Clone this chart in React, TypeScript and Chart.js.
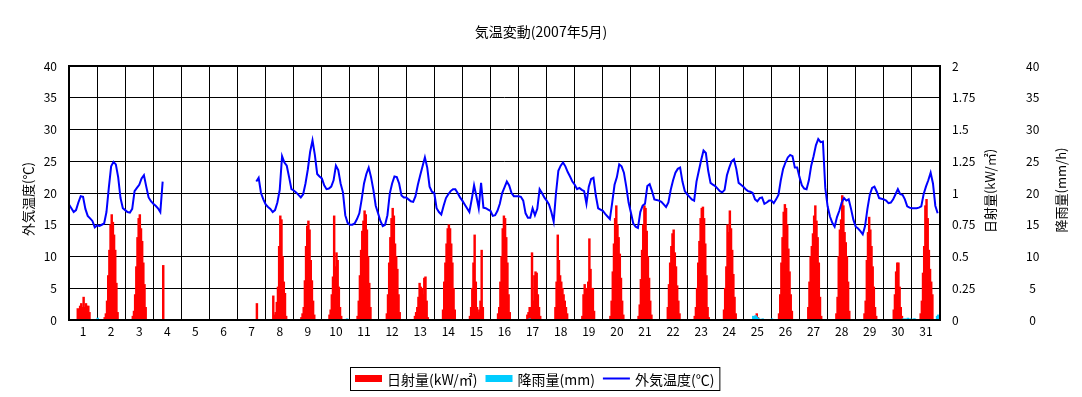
import React, { useEffect, useRef } from 'react';
import { Chart, registerables } from 'chart.js';

Chart.register(...registerables);

const FONT_FAMILY = "'Noto Sans CJK JP', 'Noto Sans', sans-serif";

const CHART_TITLE = '気温変動(2007年5月)';
const TEMP_AXIS_TITLE = '外気温度(℃)';
const SOLAR_AXIS_TITLE = '日射量(kW/㎡)';
const RAIN_AXIS_TITLE = '降雨量(mm/h)';
const SOLAR_LABEL = '日射量(kW/㎡)';
const RAIN_LABEL = '降雨量(mm)';
const TEMP_LABEL = '外気温度(℃)';

const DAY_LABELS = ['1','2','3','4','5','6','7','8','9','10','11','12','13','14','15','16','17','18','19','20','21','22','23','24','25','26','27','28','29','30','31'];

// Outside temperature, every 2 hours (0,2,...,22h) for each day of May 2007
const TEMP_HOURS = [0, 2, 4, 6, 8, 10, 12, 14, 16, 18, 20, 22];
const N = null;
const temperature: (number | null)[][] = [
  [18.2, 17.6, 17.0, 17.3, 18.5, 19.5, 19.4, 17.5, 16.4, 16.0, 15.6, 14.6],
  [14.9, 14.8, 15.0, 15.2, 17.0, 20.8, 24.2, 24.9, 24.5, 22.5, 19.2, 17.6],
  [17.3, 17.0, 16.9, 17.5, 20.3, 20.8, 21.3, 22.3, 22.8, 21.0, 19.3, 18.7],
  [18.3, 18.0, 17.6, 17.0, 21.8, N, N, N, N, N, N, N],
  [N, N, N, N, N, N, N, N, N, N, N, N],
  [N, N, N, N, N, N, N, N, N, N, N, N],
  [N, N, N, N, N, N, N, N, 21.8, 22.4, 20.0, 19.0],
  [18.2, 17.8, 17.5, 17.0, 17.3, 18.5, 20.5, 25.8, 24.8, 24.3, 22.5, 20.6],
  [20.4, 20.1, 19.7, 19.3, 19.8, 21.5, 23.7, 26.5, 28.3, 26.0, 23.0, 22.6],
  [22.3, 21.2, 20.6, 20.7, 21.0, 22.0, 24.3, 23.6, 21.5, 20.1, 16.5, 15.3],
  [15.0, 15.0, 15.2, 15.9, 16.8, 19.0, 21.5, 23.0, 24.0, 22.5, 20.5, 18.0],
  [16.8, 15.6, 14.8, 15.0, 16.5, 19.9, 21.5, 22.6, 22.5, 21.5, 19.6, 19.3],
  [19.3, 19.0, 18.7, 18.6, 19.5, 21.3, 22.8, 24.2, 25.6, 24.0, 21.0, 20.2],
  [20.0, 17.6, 17.0, 16.6, 18.0, 19.2, 19.8, 20.3, 20.6, 20.6, 20.0, 19.3],
  [18.8, 18.2, 17.6, 17.0, 19.0, 21.2, 19.5, 17.6, 21.6, 17.7, 17.6, 17.4],
  [17.2, 16.4, 16.5, 17.2, 18.3, 20.0, 20.9, 21.8, 21.2, 20.0, 19.5, 19.5],
  [19.5, 19.4, 18.8, 16.8, 16.1, 16.1, 17.6, 16.5, 17.5, 20.6, 20.0, 19.3],
  [18.8, 18.2, 17.0, 15.5, 20.0, 23.5, 24.3, 24.8, 24.2, 23.3, 22.6, 21.8],
  [21.3, 20.6, 20.8, 20.5, 20.3, 18.3, 21.0, 22.2, 22.4, 19.6, 17.6, 17.4],
  [17.2, 16.7, 16.3, 15.9, 18.5, 21.3, 22.5, 24.5, 24.2, 23.2, 21.0, 18.5],
  [16.9, 15.2, 14.7, 14.5, 17.0, 18.0, 18.3, 21.1, 21.4, 20.3, 19.0, 18.9],
  [18.8, 18.6, 18.2, 17.8, 18.5, 20.5, 22.0, 23.2, 23.8, 24.0, 21.8, 20.3],
  [19.8, 19.4, 19.0, 18.8, 21.8, 23.5, 25.2, 26.7, 26.3, 23.5, 21.6, 21.3],
  [21.1, 20.7, 20.3, 20.1, 20.5, 22.8, 24.0, 25.0, 25.3, 23.8, 21.6, 21.3],
  [21.0, 20.6, 20.3, 20.2, 20.0, 19.0, 18.7, 19.2, 19.3, 18.3, 18.5, 18.8],
  [18.8, 18.4, 19.0, 19.7, 22.0, 23.8, 24.8, 25.6, 26.0, 25.8, 24.0, 24.0],
  [22.5, 21.2, 20.7, 20.6, 22.0, 24.3, 25.8, 27.5, 28.5, 28.0, 28.1, 20.8],
  [17.9, 16.3, 15.3, 14.7, 16.2, 17.2, 18.5, 19.2, 18.8, 19.0, 17.5, 15.8],
  [14.7, 14.4, 14.0, 13.5, 14.8, 17.5, 19.7, 20.8, 21.0, 20.2, 19.2, 19.1],
  [19.0, 18.8, 18.4, 18.5, 19.0, 19.8, 20.6, 19.8, 19.7, 19.0, 17.9, 17.7],
  [17.6, 17.6, 17.6, 17.7, 17.9, 19.8, 21.0, 22.0, 23.2, 21.5, 18.0, 16.8],
];

// Solar radiation (kW/m2), hourly from 5h to 18h for each day
const SOLAR_HOURS = [5, 6, 7, 8, 9, 10, 11, 12, 13, 14, 15, 16, 17, 18];
const solar: number[][] = [
  [0, 0, 0.09, 0.06, 0.11, 0.13, 0.1, 0.18, 0.1, 0.13, 0.11, 0.11, 0.06, 0],
  [0, 0.02, 0.05, 0.15, 0.35, 0.55, 0.75, 0.83, 0.77, 0.67, 0.55, 0.29, 0.06, 0],
  [0, 0.03, 0.07, 0.2, 0.42, 0.65, 0.8, 0.83, 0.72, 0.62, 0.45, 0.28, 0.1, 0],
  [0, 0, 0, 0.43, 0, 0, 0, 0, 0, 0, 0, 0, 0, 0],
  [0, 0, 0, 0, 0, 0, 0, 0, 0, 0, 0, 0, 0, 0],
  [0, 0, 0, 0, 0, 0, 0, 0, 0, 0, 0, 0, 0, 0],
  [0, 0, 0, 0, 0, 0, 0, 0, 0, 0, 0, 0.13, 0, 0],
  [0, 0.19, 0.04, 0.06, 0.14, 0.26, 0.58, 0.82, 0.79, 0.5, 0.3, 0.21, 0.03, 0],
  [0, 0.02, 0.05, 0.1, 0.31, 0.58, 0.74, 0.78, 0.71, 0.47, 0.31, 0.15, 0.04, 0],
  [0, 0.04, 0.08, 0.2, 0.34, 0.82, 0.42, 0.53, 0.47, 0.26, 0.1, 0.03, 0, 0],
  [0, 0.03, 0.15, 0.35, 0.55, 0.7, 0.78, 0.86, 0.83, 0.71, 0.5, 0.29, 0.1, 0],
  [0, 0, 0.05, 0.2, 0.45, 0.65, 0.8, 0.88, 0.82, 0.6, 0.5, 0.4, 0.2, 0.06],
  [0, 0, 0.03, 0.06, 0.1, 0.18, 0.29, 0.26, 0.25, 0.2, 0.33, 0.34, 0.15, 0.02],
  [0, 0, 0.08, 0.3, 0.45, 0.6, 0.72, 0.75, 0.72, 0.6, 0.45, 0.25, 0.08, 0],
  [0, 0.03, 0.1, 0.25, 0.45, 0.67, 0.3, 0.1, 0.06, 0.08, 0.15, 0.55, 0.1, 0],
  [0, 0.05, 0.1, 0.3, 0.5, 0.72, 0.82, 0.8, 0.65, 0.45, 0.2, 0.06, 0, 0],
  [0, 0, 0.04, 0.06, 0.1, 0.1, 0.53, 0.15, 0.35, 0.38, 0.37, 0.2, 0.1, 0.03],
  [0, 0, 0.1, 0.3, 0.67, 0.47, 0.35, 0.3, 0.25, 0.2, 0.15, 0.1, 0.05, 0],
  [0, 0.03, 0.2, 0.28, 0.25, 0.1, 0.3, 0.64, 0.4, 0.25, 0.25, 0.07, 0, 0],
  [0, 0.03, 0.15, 0.38, 0.6, 0.8, 0.9, 0.75, 0.65, 0.52, 0.33, 0.15, 0.04, 0],
  [0, 0.03, 0.12, 0.32, 0.55, 0.75, 0.9, 0.88, 0.7, 0.5, 0.33, 0.15, 0.04, 0],
  [0, 0, 0.1, 0.28, 0.45, 0.58, 0.68, 0.71, 0.53, 0.42, 0.27, 0.15, 0.05, 0],
  [0, 0.03, 0.1, 0.25, 0.45, 0.62, 0.8, 0.88, 0.89, 0.8, 0.6, 0.35, 0.1, 0.02],
  [0, 0, 0.08, 0.25, 0.42, 0.75, 0.69, 0.86, 0.72, 0.55, 0.36, 0.18, 0.05, 0],
  [0, 0, 0, 0, 0, 0.03, 0.05, 0.02, 0, 0, 0, 0, 0, 0],
  [0, 0.05, 0.2, 0.45, 0.65, 0.85, 0.91, 0.88, 0.75, 0.56, 0.38, 0.2, 0.07, 0],
  [0, 0, 0.1, 0.3, 0.5, 0.58, 0.68, 0.82, 0.9, 0.78, 0.65, 0.45, 0.18, 0.03],
  [0, 0, 0.05, 0.18, 0.5, 0.71, 0.79, 0.98, 0.9, 0.69, 0.61, 0.5, 0.3, 0.07],
  [0, 0, 0.05, 0.15, 0.47, 0.69, 0.81, 0.71, 0.58, 0.42, 0.26, 0.1, 0.03, 0],
  [0, 0, 0, 0.08, 0.2, 0.38, 0.45, 0.45, 0.26, 0.1, 0.03, 0, 0, 0],
  [0, 0, 0.05, 0.15, 0.37, 0.58, 0.9, 0.95, 0.8, 0.55, 0.4, 0.3, 0.2, 0],
];

// Rainfall (mm/h): [day, hour, amount]
const rainfall: [number, number, number][] = [
  [2, 0, 0.3], [10, 21, 0.2], [17, 9, 0.2],
  [25, 8, 0.6], [25, 9, 0.4], [25, 10, 0.7], [25, 11, 0.5], [25, 12, 0.3], [25, 13, 0.2], [25, 16, 0.2],
  [26, 0, 0.2],
  [30, 16, 0.2], [30, 18, 0.2], [30, 20, 0.3], [30, 22, 0.2],
  [31, 1, 0.2], [31, 2, 0.2], [31, 21, 0.6], [31, 22, 0.8],
];

const SOLAR_COLOR = '#ff0000';
const RAIN_COLOR = '#00ccff';
const TEMP_COLOR = '#0000ff';

const titlePlugin = {
  id: 'customText',
  afterDraw(chart: any) {
    const ctx = chart.ctx;
    const area = chart.chartArea;
    ctx.save();
    ctx.fillStyle = '#000';
    ctx.textAlign = 'center';
    ctx.textBaseline = 'middle';
    ctx.font = `14px ${FONT_FAMILY}`;
    ctx.fillText(CHART_TITLE, chart.width / 2, 32);

    ctx.font = `13px ${FONT_FAMILY}`;
    const drawVertical = (text: string, x: number, y: number) => {
      ctx.save();
      ctx.translate(x, y);
      ctx.rotate(-Math.PI / 2);
      ctx.fillText(text, 0, 0);
      ctx.restore();
    };
    const midY = (area.top + area.bottom) / 2;
    drawVertical(TEMP_AXIS_TITLE, chart.scales.y.left + 28, midY + 6);
    drawVertical(SOLAR_AXIS_TITLE, chart.scales.y1.left + 50, midY - 2);
    drawVertical(RAIN_AXIS_TITLE, chart.scales.y2.left + 51, midY - 3);

    // legend
    const items = [
      { label: SOLAR_LABEL, color: SOLAR_COLOR, kind: 'box' },
      { label: RAIN_LABEL, color: RAIN_COLOR, kind: 'box' },
      { label: TEMP_LABEL, color: TEMP_COLOR, kind: 'line' },
    ];
    ctx.font = `14px ${FONT_FAMILY}`;
    const sym = 27, gapSym = 5, gapItem = 8, pad = 5;
    let total = pad * 2;
    items.forEach((it, i) => {
      total += sym + gapSym + ctx.measureText(it.label).width + (i < items.length - 1 ? gapItem : 0);
    });
    const boxLeft = Math.round(chart.width / 2 - 6 - total / 2);
    const boxTop = 367;
    const boxH = 23;
    const cy = boxTop + boxH / 2;
    ctx.strokeStyle = '#000';
    ctx.lineWidth = 1;
    ctx.strokeRect(boxLeft + 0.5, boxTop + 0.5, total, boxH);
    let x = boxLeft + pad;
    ctx.textAlign = 'left';
    items.forEach((it) => {
      if (it.kind === 'box') {
        ctx.fillStyle = it.color;
        ctx.fillRect(x, cy - 3.5, sym, 7);
      } else {
        ctx.strokeStyle = it.color;
        ctx.lineWidth = 2;
        ctx.beginPath();
        ctx.moveTo(x, cy);
        ctx.lineTo(x + sym, cy);
        ctx.stroke();
      }
      x += sym + gapSym;
      ctx.fillStyle = '#000';
      ctx.fillText(it.label, x, cy + 1);
      x += ctx.measureText(it.label).width + gapItem;
    });
    ctx.restore();
  },
};

const framePlugin = {
  id: 'frame',
  afterDatasetsDraw(chart: any) {
    const { ctx, chartArea: a } = chart;
    ctx.save();
    ctx.strokeStyle = '#000';
    ctx.lineWidth = 2;
    ctx.strokeRect(a.left, a.top, a.right - a.left, a.bottom - a.top);
    ctx.restore();
  },
};

export default function App() {
  const canvasRef = useRef<HTMLCanvasElement | null>(null);

  useEffect(() => {
    const canvas = canvasRef.current;
    if (!canvas) return;

    const tempPoints: { x: number; y: number | null }[] = [];
    temperature.forEach((row, d) => {
      row.forEach((v, j) => tempPoints.push({ x: d + TEMP_HOURS[j] / 24, y: v }));
    });

    const solarPoints: { x: number; y: number }[] = [];
    solar.forEach((row, d) => {
      row.forEach((v, j) => {
        if (v > 0) solarPoints.push({ x: d + (SOLAR_HOURS[j] + 0.5) / 24, y: v });
      });
    });

    const rainPoints = rainfall.map(([day, hour, mm]) => ({ x: day - 1 + (hour + 0.5) / 24, y: mm }));

    const dayBoundaries = DAY_LABELS.map((_, i) => i).concat([DAY_LABELS.length]);
    const dayCenters = DAY_LABELS.map((_, i) => i + 0.5);

    const tickFont = { family: FONT_FAMILY, size: 12 };

    const chart = new Chart(canvas, {
      data: {
        datasets: [
          {
            type: 'line',
            label: TEMP_LABEL,
            data: tempPoints as any,
            borderColor: TEMP_COLOR,
            backgroundColor: TEMP_COLOR,
            borderWidth: 2,
            pointRadius: 0,
            tension: 0,
            spanGaps: false,
            xAxisID: 'x',
            yAxisID: 'y',
            order: 0,
          },
          {
            type: 'bar',
            label: RAIN_LABEL,
            data: rainPoints as any,
            backgroundColor: RAIN_COLOR,
            barThickness: 1.8,
            grouped: false,
            xAxisID: 'x',
            yAxisID: 'y2',
            order: 1,
          },
          {
            type: 'bar',
            label: SOLAR_LABEL,
            data: solarPoints as any,
            backgroundColor: SOLAR_COLOR,
            barThickness: 1.8,
            grouped: false,
            xAxisID: 'x',
            yAxisID: 'y1',
            order: 2,
          },
        ] as any,
      },
      options: {
        animation: false,
        responsive: false,
        maintainAspectRatio: false,
        layout: { padding: { top: 66, bottom: 40, left: 0, right: 0 } },
        plugins: {
          legend: { display: false },
          tooltip: { enabled: false },
          title: { display: false },
        },
        scales: {
          x: {
            type: 'linear',
            position: 'bottom',
            min: 0,
            max: 31,
            offset: false,
            weight: 0,
            afterBuildTicks: (s: any) => {
              s.ticks = dayBoundaries.map((v) => ({ value: v }));
            },
            ticks: { display: false },
            grid: { color: '#000', lineWidth: 1, drawTicks: false, offset: false },
            border: { display: false },
            afterFit: (s: any) => {
              s.height = 0;
            },
          },
          xDay: {
            type: 'linear',
            position: 'bottom',
            min: 0,
            max: 31,
            offset: false,
            weight: 1,
            afterBuildTicks: (s: any) => {
              s.ticks = dayCenters.map((v) => ({ value: v }));
            },
            ticks: {
              autoSkip: false,
              maxRotation: 0,
              padding: 4,
              color: '#000',
              font: tickFont,
              callback: (v: any) => DAY_LABELS[Math.floor(Number(v))],
            },
            grid: { display: false, drawTicks: false },
            border: { display: false },
            afterFit: (s: any) => {
              s.height = 37;
            },
          },
          y: {
            type: 'linear',
            position: 'left',
            min: 0,
            max: 40,
            ticks: { stepSize: 5, padding: 12, color: '#000', font: tickFont },
            grid: { color: '#000', lineWidth: 1, drawTicks: false },
            border: { display: false },
            afterFit: (s: any) => {
              s.width = 69;
            },
          },
          y1: {
            type: 'linear',
            position: 'right',
            weight: 1,
            min: 0,
            max: 2,
            ticks: {
              stepSize: 0.25,
              padding: 12,
              color: '#000',
              font: tickFont,
              callback: (v: any) => String(v),
            },
            grid: { display: false, drawTicks: false },
            border: { display: false },
            afterFit: (s: any) => {
              s.width = 70;
            },
          },
          y2: {
            type: 'linear',
            position: 'right',
            weight: 2,
            min: 0,
            max: 40,
            ticks: { stepSize: 5, padding: 16, crossAlign: 'center', color: '#000', font: tickFont },
            grid: { display: false, drawTicks: false },
            border: { display: false },
            afterFit: (s: any) => {
              s.width = 72;
            },
          },
        } as any,
      },
      plugins: [framePlugin, titlePlugin],
    } as any);

    return () => chart.destroy();
  }, []);

  return (
    <div style={{ position: 'absolute', left: 0, top: 0, width: 1082, height: 397, background: '#fff' }}>
      <canvas ref={canvasRef} width={1082} height={397} style={{ display: 'block', width: 1082, height: 397 }} />
    </div>
  );
}
